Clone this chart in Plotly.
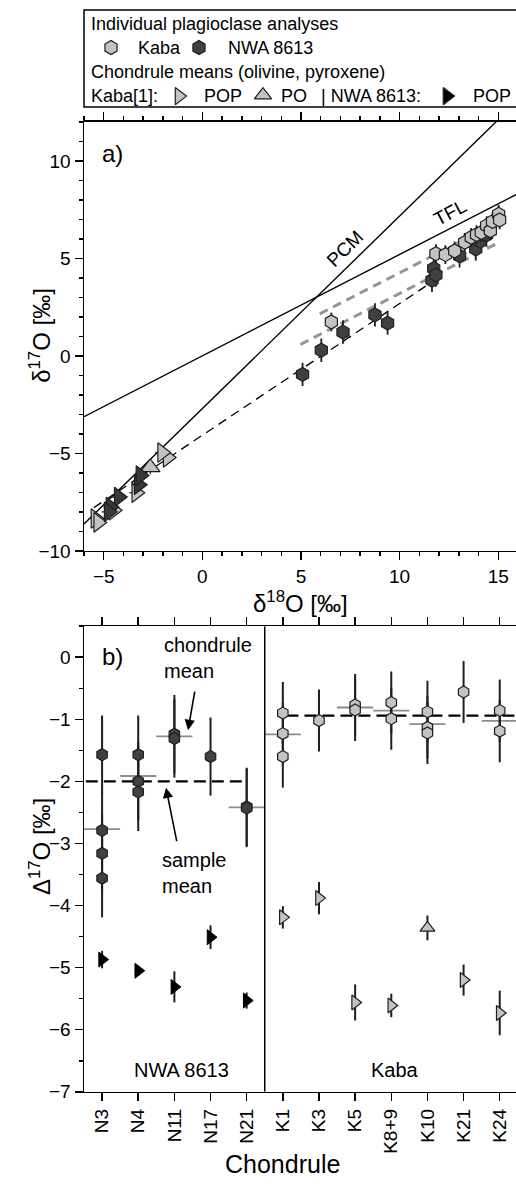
import plotly.graph_objects as go
import numpy as np

W, H = 516, 1191
FONT = "Liberation Sans, Arial, Helvetica, sans-serif"

# ---------------- Panel a data (delta18O, delta17O, permil) ----------------
kaba_plag_d18O = [6.54, 11.84, 12.32, 12.79, 13.30, 13.63, 13.90, 14.14, 14.41, 14.60, 14.71, 15.02, 15.07]
kaba_plag_d17O = [1.74, 5.24, 5.19, 5.38, 5.82, 6.08, 6.22, 6.33, 6.68, 6.41, 6.89, 7.26, 6.97]
kaba_plag_err = [0.48] * 13
nwa_plag_d18O = [5.08, 6.03, 7.13, 8.75, 9.39, 11.64, 11.73, 11.84, 13.04, 13.86, 14.09, 14.40]
nwa_plag_d17O = [-0.95, 0.29, 1.22, 2.10, 1.68, 3.88, 4.48, 4.15, 5.13, 5.48, 5.87, 6.20]
nwa_plag_err = [0.6] * 12

kaba_pop_d18O = [-1.76, -2.04, -4.50, -5.42, -3.35, -5.28]
kaba_pop_d17O = [-5.21, -4.96, -7.92, -8.34, -7.02, -8.54]
kaba_po_d18O = [-2.64]
kaba_po_d17O = [-5.72]
nwa_pop_d18O = [-3.23, -4.24, -4.66, -3.14, -4.75]
nwa_pop_d17O = [-6.61, -7.24, -7.75, -6.14, -8.00]
tri_err = 0.35

TFL_SLOPE, TFL_INT = 0.52, 0.0
PCM_SLOPE, PCM_INT = 0.987, -2.70
NWA_FIT_SLOPE, NWA_FIT_INT, NWA_FIT_SPAN = 0.675, -4.07, (-5.5, 11.8)
MFL_SLOPE = 0.52
KABA_MFL_INT, KABA_MFL_SPAN = -0.94, (5.95, 15.0)
NWA_MFL_INT, NWA_MFL_SPAN = -2.0, (4.97, 14.9)

XA_RANGE = [-6, 15.9]
YA_RANGE = [-10, 12]

# ---------------- Panel b data (Delta17O, permil) ----------------
chondrules = ["N3", "N4", "N11", "N17", "N21", "K1", "K3", "K5", "K8+9", "K10", "K21", "K24"]
nwa_plag_chondrule = ["N3"] * 4 + ["N4"] * 3 + ["N11"] * 2 + ["N17"] + ["N21"] * 2
nwa_plag_D17O = [-1.57, -2.79, -3.16, -3.56, -1.57, -2.00, -2.17, -1.24, -1.31, -1.60, -2.41, -2.43]
nwa_plag_D17O_err = [0.63] * 12
kaba_plag_chondrule = ["K1"] * 3 + ["K3"] + ["K5"] * 2 + ["K8+9"] * 2 + ["K10"] * 3 + ["K21"] + ["K24"] * 2
kaba_plag_D17O = [-0.90, -1.23, -1.60, -1.02, -0.77, -0.85, -0.73, -0.99, -0.88, -1.13, -1.22, -0.56, -0.86, -1.19]
kaba_plag_D17O_err = [0.5] * 14

nwa_pop_chondrule = ["N3", "N4", "N11", "N17", "N21"]
nwa_pop_D17O = [-4.87, -5.05, -5.31, -4.51, -5.53]
nwa_pop_err = [0.14, 0.08, 0.25, 0.19, 0.13]
kaba_pop_chondrule = ["K1", "K3", "K5", "K8+9", "K21", "K24"]
kaba_pop_D17O = [-4.19, -3.88, -5.56, -5.61, -5.20, -5.73]
kaba_pop_err = [0.18, 0.26, 0.29, 0.19, 0.25, 0.36]
kaba_po_chondrule = ["K10"]
kaba_po_D17O = [-4.36]
kaba_po_err = [0.20]

NWA_SAMPLE_MEAN, NWA_MEAN_SPAN = -2.0, (-0.45, 3.9)
KABA_SAMPLE_MEAN, KABA_MEAN_SPAN = -0.94, (5.1, 11.45)
DIVIDER = 4.5
XB_RANGE = [-0.5, 11.45]
YB_RANGE = [-7, 0.5]

# ---------------- colours / geometry ----------------
LIGHT = "#c3c3c3"
DARK = "#404040"
EDGE = "#1e1e1e"
PA = dict(l=84, r=516, t=123, b=556)
PB = dict(l=84, r=516, t=632, b=1102)
LEG = dict(l=84, r=522, t=10, b=108)


def fx(p):
    return p / W


def fy(p):
    return 1 - p / H


idx = {c: i for i, c in enumerate(chondrules)}

fig = go.Figure()


def seg(x0, x1, m, b):
    return [x0, x1], [m * x0 + b, m * x1 + b]


# ---- Panel a lines
tx, ty = seg(XA_RANGE[0], XA_RANGE[1], TFL_SLOPE, TFL_INT)
fig.add_trace(go.Scatter(x=tx, y=ty, mode="lines", line=dict(color="black", width=1.4),
                         xaxis="x", yaxis="y", showlegend=False, hoverinfo="skip"))
px_, py_ = seg(XA_RANGE[0], (YA_RANGE[1] - PCM_INT) / PCM_SLOPE, PCM_SLOPE, PCM_INT)
fig.add_trace(go.Scatter(x=px_, y=py_, mode="lines", line=dict(color="black", width=1.4),
                         xaxis="x", yaxis="y", showlegend=False, hoverinfo="skip"))
for (span, b) in [(KABA_MFL_SPAN, KABA_MFL_INT), (NWA_MFL_SPAN, NWA_MFL_INT)]:
    gx, gy = seg(span[0], span[1], MFL_SLOPE, b)
    fig.add_trace(go.Scatter(x=gx, y=gy, mode="lines",
                             line=dict(color="#959595", width=3, dash="9px,6px"),
                             xaxis="x", yaxis="y", showlegend=False, hoverinfo="skip"))
fx_, fy_ = seg(NWA_FIT_SPAN[0], NWA_FIT_SPAN[1], NWA_FIT_SLOPE, NWA_FIT_INT)
fig.add_trace(go.Scatter(x=fx_, y=fy_, mode="lines",
                         line=dict(color="black", width=1.3, dash="9px,6px"),
                         xaxis="x", yaxis="y", showlegend=False, hoverinfo="skip"))

# ---- Panel a points
ebar = dict(type="data", thickness=1.8, width=0, color=EDGE)
fig.add_trace(go.Scatter(x=nwa_plag_d18O, y=nwa_plag_d17O, mode="markers",
                         error_y=dict(array=nwa_plag_err, **ebar),
                         marker=dict(symbol="hexagon", size=14, color=DARK, line=dict(color=EDGE, width=1.2)),
                         xaxis="x", yaxis="y", showlegend=False))
fig.add_trace(go.Scatter(x=kaba_plag_d18O, y=kaba_plag_d17O, mode="markers",
                         error_y=dict(array=kaba_plag_err, **ebar),
                         marker=dict(symbol="hexagon", size=14, color=LIGHT, line=dict(color=EDGE, width=1.2)),
                         xaxis="x", yaxis="y", showlegend=False))
tbar = dict(type="constant", value=tri_err, thickness=1.2, width=0, color=EDGE)
fig.add_trace(go.Scatter(x=kaba_pop_d18O, y=kaba_pop_d17O, mode="markers",
                         error_x=dict(tbar), error_y=dict(tbar),
                         marker=dict(symbol="triangle-right", size=17, color=LIGHT, line=dict(color=EDGE, width=1.2)),
                         xaxis="x", yaxis="y", showlegend=False))
fig.add_trace(go.Scatter(x=kaba_po_d18O, y=kaba_po_d17O, mode="markers",
                         error_x=dict(tbar), error_y=dict(tbar),
                         marker=dict(symbol="triangle-up", size=17, color=LIGHT, line=dict(color=EDGE, width=1.2)),
                         xaxis="x", yaxis="y", showlegend=False))
fig.add_trace(go.Scatter(x=nwa_pop_d18O, y=nwa_pop_d17O, mode="markers",
                         error_x=dict(tbar), error_y=dict(tbar),
                         marker=dict(symbol="triangle-right", size=17, color="#383838", line=dict(color=EDGE, width=1.2)),
                         xaxis="x", yaxis="y", showlegend=False))

# ---- Panel b: chondrule mean lines (gray)
mx, my = [], []
all_ch = nwa_plag_chondrule + kaba_plag_chondrule
all_v = nwa_plag_D17O + kaba_plag_D17O
for c in chondrules:
    vals = [v for cc, v in zip(all_ch, all_v) if cc == c]
    if len(vals) > 1:
        m = float(np.mean(vals))
        mx += [idx[c] - 0.5, idx[c] + 0.5, None]
        my += [m, m, None]
fig.add_trace(go.Scatter(x=mx, y=my, mode="lines", line=dict(color="#8c8c8c", width=1.8),
                         xaxis="x2", yaxis="y2", showlegend=False, hoverinfo="skip"))
for span, m in [(NWA_MEAN_SPAN, NWA_SAMPLE_MEAN), (KABA_MEAN_SPAN, KABA_SAMPLE_MEAN)]:
    fig.add_trace(go.Scatter(x=list(span), y=[m, m], mode="lines",
                             line=dict(color="black", width=2.2, dash="12px,6px"),
                             xaxis="x2", yaxis="y2", showlegend=False, hoverinfo="skip"))

ebar_b = dict(type="data", thickness=2, width=0, color=EDGE)
fig.add_trace(go.Scatter(x=[idx[c] for c in nwa_plag_chondrule], y=nwa_plag_D17O, mode="markers",
                         error_y=dict(array=nwa_plag_D17O_err, **ebar_b),
                         marker=dict(symbol="hexagon", size=12, color=DARK, line=dict(color=EDGE, width=1.2)),
                         xaxis="x2", yaxis="y2", showlegend=False))
fig.add_trace(go.Scatter(x=[idx[c] for c in kaba_plag_chondrule], y=kaba_plag_D17O, mode="markers",
                         error_y=dict(array=kaba_plag_D17O_err, **ebar_b),
                         marker=dict(symbol="hexagon", size=12, color=LIGHT, line=dict(color=EDGE, width=1.2)),
                         xaxis="x2", yaxis="y2", showlegend=False))
fig.add_trace(go.Scatter(x=[idx[c] for c in nwa_pop_chondrule], y=nwa_pop_D17O, mode="markers",
                         error_y=dict(array=nwa_pop_err, **ebar_b),
                         marker=dict(symbol="triangle-right", size=13, color="black", line=dict(color="black", width=1)),
                         xaxis="x2", yaxis="y2", showlegend=False))
fig.add_trace(go.Scatter(x=[idx[c] for c in kaba_pop_chondrule], y=kaba_pop_D17O, mode="markers",
                         error_y=dict(array=kaba_pop_err, **ebar_b),
                         marker=dict(symbol="triangle-right", size=13, color=LIGHT, line=dict(color=EDGE, width=1.2)),
                         xaxis="x2", yaxis="y2", showlegend=False))
fig.add_trace(go.Scatter(x=[idx[c] for c in kaba_po_chondrule], y=kaba_po_D17O, mode="markers",
                         error_y=dict(array=kaba_po_err, **ebar_b),
                         marker=dict(symbol="triangle-up", size=13, color=LIGHT, line=dict(color=EDGE, width=1.2)),
                         xaxis="x2", yaxis="y2", showlegend=False))

# ---- Legend markers (pixel-coordinate helper axes restricted to legend box)
leg_sym = [("hexagon", LIGHT, 111, 48), ("hexagon", DARK, 199, 48),
           ("triangle-right", LIGHT, 179, 97), ("triangle-up", LIGHT, 263, 96),
           ("triangle-right", "black", 447, 97)]
for sym, col, lx, ly in leg_sym:
    fig.add_trace(go.Scatter(x=[lx], y=[ly], mode="markers",
                             marker=dict(symbol=sym, size=14 if sym == "hexagon" else 15, color=col,
                                         line=dict(color=EDGE, width=1.2)),
                             xaxis="x3", yaxis="y3", showlegend=False, hoverinfo="skip"))

tickfont = dict(family=FONT, size=19, color="black")
axcommon = dict(showline=True, linecolor="black", linewidth=1.5, ticks="outside", ticklen=8,
                tickwidth=1.5, tickcolor="black", tickfont=tickfont, showgrid=False, zeroline=False)
minor_common = dict(ticklen=4, ticks="outside", tickwidth=1.5, tickcolor="black", showgrid=False)

fig.update_layout(
    width=W, height=H, margin=dict(l=0, r=0, t=0, b=0),
    paper_bgcolor="white", plot_bgcolor="rgba(0,0,0,0)",
    font=dict(family=FONT, color="black"),
    xaxis=dict(domain=[fx(PA["l"]), fx(PA["r"])], range=XA_RANGE, anchor="y", mirror="ticks",
               dtick=5, tick0=0, minor=dict(dtick=1, **minor_common), **axcommon),
    yaxis=dict(domain=[fy(PA["b"]), fy(PA["t"])], range=YA_RANGE, anchor="x",
               dtick=5, tick0=0, minor=dict(dtick=1, **minor_common), **axcommon),
    xaxis2=dict(domain=[fx(PB["l"]), fx(PB["r"])], range=XB_RANGE, anchor="y2", mirror="ticks",
                tickvals=list(range(len(chondrules))), ticktext=chondrules, tickangle=-90,
                **axcommon),
    yaxis2=dict(domain=[fy(PB["b"]), fy(PB["t"])], range=YB_RANGE, anchor="x2",
                dtick=1, tick0=0, minor=dict(dtick=0.5, **minor_common), **axcommon),
    xaxis3=dict(domain=[0, 1], range=[0, W], visible=False, fixedrange=True, anchor="y3"),
    yaxis3=dict(domain=[fy(LEG["b"] + 4), fy(LEG["t"] - 4)], range=[LEG["b"] + 4, LEG["t"] - 4],
                visible=False, fixedrange=True, anchor="x3"),
)

# frame shapes
fig.add_shape(type="rect", xref="paper", yref="paper", x0=fx(LEG["l"]), x1=fx(LEG["r"]),
              y0=fy(LEG["b"]), y1=fy(LEG["t"]), line=dict(color="black", width=1.5))
fig.add_shape(type="line", xref="x2", yref="y2", x0=DIVIDER, x1=DIVIDER, y0=YB_RANGE[0], y1=YB_RANGE[1],
              line=dict(color="black", width=1.5))


def ann(text, x, y, size=18, xanchor="left", angle=0, **kw):
    fig.add_annotation(text=text, x=fx(x), y=fy(y), xref="paper", yref="paper", showarrow=False,
                       xanchor=xanchor, yanchor="middle", textangle=angle,
                       font=dict(family=FONT, size=size, color="black"), **kw)


# legend text
ann("Individual plagioclase analyses", 89, 24)
ann("Kaba", 136, 48)
ann("NWA 8613", 226, 48)
ann("Chondrule means (olivine, pyroxene)", 89, 73)
ann("Kaba[1]:", 89, 97)
ann("POP", 202, 97)
ann("PO", 279, 97)
ann("| NWA 8613:", 319, 97)
ann("POP", 471, 97)

# panel a text
ann("a)", 112, 155, size=24, xanchor="center")
ann("PCM", 345, 251, size=19, xanchor="center", angle=-44.6)
ann("TFL", 450, 214, size=19, xanchor="center", angle=-28)
ann("δ<sup>17</sup>O [‰]", 40, 339, size=24, xanchor="center", angle=-90)
ann("δ<sup>18</sup>O [‰]", 300, 608, size=24, xanchor="center")

# panel b text
ann("b)", 112, 663, size=24, xanchor="center")
ann("chondrule<br>mean", 162, 664, size=20, align="left")
ann("sample<br>mean", 160, 881, size=20, align="left")
ann("NWA 8613", 181, 1080, size=20, xanchor="center")
ann("Kaba", 395, 1080, size=20, xanchor="center")
ann("Δ<sup>17</sup>O [‰]", 40, 855, size=24, xanchor="center", angle=-90)
ann("Chondrule", 282, 1175, size=25, xanchor="center")

# arrows
fig.add_annotation(x=fx(188), y=fy(737), xref="paper", yref="paper", ax=7, ay=-40, text="",
                   showarrow=True, arrowhead=2, arrowsize=1.3, arrowwidth=1.6, arrowcolor="black")
fig.add_annotation(x=fx(166), y=fy(795), xref="paper", yref="paper", ax=11, ay=55, text="",
                   showarrow=True, arrowhead=2, arrowsize=1.3, arrowwidth=1.6, arrowcolor="black")

fig.write_html("out.html", config={"displayModeBar": False, "staticPlot": True},
               post_script="document.body.style.margin='0';document.body.style.overflow='hidden';")
